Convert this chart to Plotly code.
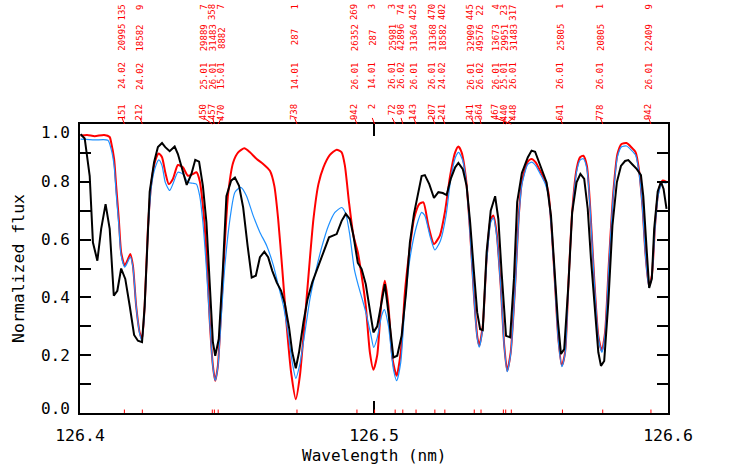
import numpy as np
import plotly.graph_objects as go

# ---------------- data ----------------
obs_wl = [126.4002, 126.4016, 126.4033, 126.4044, 126.4059, 126.4072, 126.4087, 126.4101, 126.4115, 126.4127,
          126.4140, 126.4154, 126.4169, 126.4184, 126.4197, 126.4211, 126.4220, 126.4237, 126.4252, 126.4265,
          126.4279, 126.4290, 126.4305, 126.4322, 126.4333, 126.4347, 126.4363, 126.4379, 126.4392, 126.4405,
          126.4418, 126.4430, 126.4441, 126.4452, 126.4460, 126.4472, 126.4486, 126.4498, 126.4514, 126.4527,
          126.4541, 126.4555, 126.4570, 126.4584, 126.4598, 126.4612, 126.4627, 126.4640, 126.4654, 126.4669,
          126.4684, 126.4697, 126.4711, 126.4722, 126.4734, 126.4745, 126.4760, 126.4774, 126.4790, 126.4808,
          126.4828, 126.4847, 126.4873, 126.4890, 126.4904, 126.4918, 126.4930, 126.4945, 126.4958, 126.4972,
          126.4986, 126.4998, 126.5011, 126.5026, 126.5037, 126.5049, 126.5066, 126.5079, 126.5094, 126.5109,
          126.5122, 126.5136, 126.5151, 126.5162, 126.5173, 126.5188, 126.5204, 126.5219, 126.5234, 126.5247,
          126.5261, 126.5276, 126.5287, 126.5302, 126.5315, 126.5327, 126.5340, 126.5351, 126.5361, 126.5370,
          126.5383, 126.5397, 126.5412, 126.5423, 126.5434, 126.5449, 126.5463, 126.5476, 126.5487, 126.5503,
          126.5523, 126.5536, 126.5548, 126.5561, 126.5576, 126.5587, 126.5602, 126.5613, 126.5625, 126.5636,
          126.5647, 126.5661, 126.5674, 126.5689, 126.5702, 126.5715, 126.5727, 126.5738, 126.5752, 126.5763,
          126.5772, 126.5783, 126.5797, 126.5811, 126.5826, 126.5840, 126.5854, 126.5865, 126.5879, 126.5894,
          126.5908, 126.5916, 126.5928, 126.5936, 126.5945, 126.5953, 126.5965, 126.5976, 126.5985, 126.5995]
obs_flux = [0.965, 0.950, 0.820, 0.590, 0.527, 0.637, 0.723, 0.637, 0.406, 0.423,
            0.500, 0.464, 0.371, 0.270, 0.250, 0.245, 0.371, 0.765, 0.868, 0.920,
            0.934, 0.920, 0.906, 0.922, 0.896, 0.850, 0.789, 0.827, 0.876, 0.870,
            0.786, 0.660, 0.441, 0.245, 0.198, 0.256, 0.498, 0.750, 0.804, 0.815,
            0.786, 0.711, 0.579, 0.469, 0.475, 0.539, 0.558, 0.539, 0.492, 0.452,
            0.423, 0.377, 0.296, 0.210, 0.155, 0.210, 0.314, 0.394, 0.452, 0.498,
            0.556, 0.608, 0.619, 0.665, 0.689, 0.671, 0.614, 0.519, 0.498, 0.446,
            0.360, 0.279, 0.300, 0.383, 0.446, 0.348, 0.192, 0.198, 0.267, 0.417,
            0.590, 0.689, 0.764, 0.820, 0.823, 0.792, 0.744, 0.764, 0.761, 0.754,
            0.810, 0.850, 0.865, 0.844, 0.786, 0.660, 0.487, 0.348, 0.290, 0.287,
            0.556, 0.700, 0.750, 0.671, 0.487, 0.267, 0.262, 0.464, 0.730, 0.830,
            0.884, 0.908, 0.904, 0.867, 0.827, 0.798, 0.683, 0.521, 0.325, 0.204,
            0.221, 0.440, 0.694, 0.798, 0.827, 0.810, 0.706, 0.533, 0.348, 0.210,
            0.163, 0.180, 0.383, 0.648, 0.798, 0.855, 0.872, 0.875, 0.860, 0.844,
            0.823, 0.750, 0.556, 0.433, 0.464, 0.637, 0.767, 0.800, 0.775, 0.706]

model1_wl = [126.4002, 126.4024, 126.4050, 126.4082, 126.4101, 126.4106, 126.4116, 126.4123, 126.4132, 126.4140,
             126.4152, 126.4161, 126.4171, 126.4180, 126.4191, 126.4203, 126.4211, 126.4220, 126.4231, 126.4243,
             126.4256, 126.4268, 126.4279, 126.4290, 126.4302, 126.4316, 126.4333, 126.4350, 126.4367, 126.4384,
             126.4396, 126.4407, 126.4418, 126.4430, 126.4441, 126.4452, 126.4460, 126.4469, 126.4481, 126.4492,
             126.4504, 126.4521, 126.4538, 126.4559, 126.4578, 126.4601, 126.4623, 126.4646, 126.4661, 126.4674,
             126.4688, 126.4703, 126.4718, 126.4734, 126.4748, 126.4763, 126.4779, 126.4794, 126.4811, 126.4828,
             126.4850, 126.4873, 126.4890, 126.4901, 126.4915, 126.4930, 126.4945, 126.4958, 126.4972, 126.4986,
             126.4998, 126.5011, 126.5026, 126.5037, 126.5049, 126.5063, 126.5077, 126.5091, 126.5105, 126.5120,
             126.5136, 126.5154, 126.5168, 126.5185, 126.5204, 126.5224, 126.5241, 126.5259, 126.5276, 126.5287,
             126.5298, 126.5313, 126.5327, 126.5340, 126.5351, 126.5358, 126.5370, 126.5383, 126.5397, 126.5406,
             126.5417, 126.5431, 126.5443, 126.5453, 126.5465, 126.5480, 126.5493, 126.5503, 126.5523, 126.5536,
             126.5550, 126.5565, 126.5582, 126.5593, 126.5604, 126.5616, 126.5627, 126.5639, 126.5650, 126.5661,
             126.5674, 126.5689, 126.5701, 126.5712, 126.5724, 126.5735, 126.5749, 126.5763, 126.5775, 126.5786,
             126.5799, 126.5814, 126.5828, 126.5842, 126.5859, 126.5876, 126.5890, 126.5901, 126.5913, 126.5923,
             126.5935, 126.5945, 126.5956, 126.5967, 126.5981, 126.5995]
model1_flux = [0.960, 0.962, 0.958, 0.962, 0.955, 0.936, 0.879, 0.786, 0.671, 0.556,
               0.510, 0.527, 0.550, 0.510, 0.371, 0.279, 0.256, 0.371, 0.637, 0.798,
               0.873, 0.898, 0.885, 0.833, 0.792, 0.810, 0.858, 0.850, 0.821, 0.827,
               0.833, 0.804, 0.717, 0.556, 0.325, 0.164, 0.112, 0.164, 0.371, 0.579,
               0.760, 0.867, 0.902, 0.916, 0.902, 0.879, 0.862, 0.838, 0.786, 0.671,
               0.498, 0.302, 0.141, 0.048, 0.129, 0.302, 0.498, 0.671, 0.792, 0.850,
               0.893, 0.911, 0.902, 0.856, 0.729, 0.614, 0.556, 0.475, 0.371, 0.210,
               0.150, 0.200, 0.394, 0.458, 0.371, 0.187, 0.129, 0.210, 0.417, 0.556,
               0.671, 0.723, 0.729, 0.648, 0.585, 0.614, 0.694, 0.821, 0.902, 0.922,
               0.902, 0.810, 0.625, 0.406, 0.267, 0.233, 0.302, 0.533, 0.671, 0.683,
               0.625, 0.440, 0.233, 0.146, 0.210, 0.440, 0.690, 0.800, 0.870, 0.879,
               0.867, 0.838, 0.804, 0.764, 0.637, 0.440, 0.256, 0.164, 0.210, 0.440,
               0.694, 0.844, 0.885, 0.890, 0.856, 0.717, 0.464, 0.267, 0.215, 0.279,
               0.521, 0.764, 0.896, 0.931, 0.934, 0.919, 0.902, 0.844, 0.717, 0.556,
               0.440, 0.475, 0.648, 0.764, 0.804, 0.800]

model2_wl = [126.4002, 126.4050, 126.4095, 126.4106, 126.4116, 126.4123, 126.4132, 126.4140, 126.4152, 126.4161,
             126.4171, 126.4180, 126.4191, 126.4203, 126.4211, 126.4220, 126.4231, 126.4243, 126.4256, 126.4268,
             126.4279, 126.4290, 126.4305, 126.4316, 126.4333, 126.4350, 126.4367, 126.4384, 126.4396, 126.4407,
             126.4418, 126.4430, 126.4441, 126.4452, 126.4460, 126.4469, 126.4481, 126.4492, 126.4510, 126.4527,
             126.4547, 126.4566, 126.4589, 126.4612, 126.4635, 126.4658, 126.4675, 126.4692, 126.4709, 126.4722,
             126.4734, 126.4748, 126.4765, 126.4782, 126.4801, 126.4822, 126.4845, 126.4867, 126.4890, 126.4904,
             126.4918, 126.4933, 126.4947, 126.4960, 126.4975, 126.4990, 126.4999, 126.5011, 126.5026, 126.5035,
             126.5049, 126.5066, 126.5077, 126.5091, 126.5105, 126.5122, 126.5145, 126.5162, 126.5173, 126.5190,
             126.5207, 126.5226, 126.5245, 126.5261, 126.5277, 126.5288, 126.5302, 126.5315, 126.5327, 126.5340,
             126.5351, 126.5358, 126.5370, 126.5383, 126.5397, 126.5406, 126.5417, 126.5431, 126.5443, 126.5453,
             126.5465, 126.5480, 126.5493, 126.5503, 126.5523, 126.5536, 126.5550, 126.5565, 126.5582, 126.5593,
             126.5604, 126.5616, 126.5627, 126.5639, 126.5650, 126.5661, 126.5674, 126.5689, 126.5701, 126.5712,
             126.5724, 126.5735, 126.5749, 126.5763, 126.5775, 126.5786, 126.5799, 126.5814, 126.5828, 126.5842,
             126.5859, 126.5876, 126.5890, 126.5901, 126.5913, 126.5923, 126.5935, 126.5945, 126.5956, 126.5967,
             126.5981, 126.5995]
model2_flux = [0.948, 0.945, 0.944, 0.913, 0.856, 0.760, 0.650, 0.545, 0.505, 0.520,
               0.540, 0.505, 0.370, 0.275, 0.250, 0.360, 0.620, 0.786, 0.850, 0.876,
               0.856, 0.798, 0.770, 0.792, 0.833, 0.827, 0.798, 0.795, 0.792, 0.752,
               0.660, 0.500, 0.320, 0.160, 0.112, 0.160, 0.340, 0.500, 0.671, 0.764,
               0.781, 0.752, 0.683, 0.625, 0.579, 0.510, 0.440, 0.371, 0.267, 0.175,
               0.120, 0.170, 0.279, 0.394, 0.487, 0.573, 0.648, 0.694, 0.711, 0.689,
               0.614, 0.498, 0.440, 0.394, 0.337, 0.267, 0.227, 0.260, 0.337, 0.358,
               0.302, 0.152, 0.112, 0.175, 0.371, 0.533, 0.648, 0.694, 0.683, 0.614,
               0.564, 0.596, 0.683, 0.810, 0.885, 0.902, 0.873, 0.786, 0.615, 0.400,
               0.260, 0.228, 0.295, 0.520, 0.660, 0.675, 0.615, 0.435, 0.230, 0.143,
               0.205, 0.430, 0.680, 0.790, 0.860, 0.868, 0.856, 0.828, 0.794, 0.754,
               0.630, 0.435, 0.250, 0.160, 0.205, 0.435, 0.685, 0.834, 0.875, 0.880,
               0.846, 0.710, 0.460, 0.262, 0.210, 0.274, 0.515, 0.755, 0.886, 0.921,
               0.924, 0.909, 0.892, 0.835, 0.710, 0.550, 0.435, 0.470, 0.640, 0.755,
               0.797, 0.795]

# line identifications
line_wl = [126.4151, 126.4212, 126.4450, 126.4457, 126.4470, 126.4738, 126.4942, 126.5002,
           126.5072, 126.5098, 126.5143, 126.5207, 126.5241, 126.5341, 126.5364, 126.5467,
           126.5440, 126.5448, 126.5641, 126.5778, 126.5942]
line_ion = ["24.02", "24.02", "25.01", "26.01", "15.01", "14.01", "26.01", "14.01",
            "26.01", "26.02", "26.01", "26.01", "24.02", "26.01", "26.02", "26.01",
            "25.01", "26.01", "26.01", "26.01", "26.01"]
line_level = ["20995", "18582", "29889", "31483", "8882", "287", "26352", "287",
              "25981", "42896", "31364", "31368", "18582", "32909", "49576", "13673",
              "29951", "31483", "25805", "20805", "22409"]
line_strength = ["135", "9", "7", "358", "7", "1", "269", "3",
                 "3", "74", "425", "470", "402", "445", "22", "4",
                 "23", "317", "1", "1", "9"]

x_ticks = [126.4, 126.5, 126.6]
y_ticks = [0.0, 0.1, 0.2, 0.3, 0.4, 0.5, 0.6, 0.7, 0.8, 0.9, 1.0]

# ---------------- layout helpers ----------------
XMIN, XMAX = 126.4, 126.6
GAP = 0.0030      # minimum label separation (nm)
SHIFT = -0.0008   # labels sit slightly left of the line


def spread(vals, gap):
    clusters = [[i] for i in range(len(vals))]
    while True:
        pos = []
        for c in clusters:
            m = np.mean([vals[i] for i in c])
            n = len(c)
            pos.append([m + (k - (n - 1) / 2) * gap for k in range(n)])
        merged = False
        for j in range(len(clusters) - 1):
            if pos[j + 1][0] - pos[j][-1] < gap - 1e-9:
                clusters[j] = clusters[j] + clusters[j + 1]
                del clusters[j + 1]
                merged = True
                break
        if not merged:
            out = [0.0] * len(vals)
            for c, p in zip(clusters, pos):
                for i, v in zip(c, p):
                    out[i] = v
            return out


label_x = [p + SHIFT for p in spread(line_wl, GAP)]

RED = "#ff0000"
BLUE = "#1e90ff"
FONT = "DejaVu Sans Mono"

fig = go.Figure()
fig.add_trace(go.Scatter(x=model1_wl, y=model1_flux, mode="lines",
                         line=dict(color=RED, width=2, shape="spline", smoothing=0.6),
                         hoverinfo="skip", showlegend=False))
fig.add_trace(go.Scatter(x=model2_wl, y=model2_flux, mode="lines",
                         line=dict(color=BLUE, width=1.2, shape="spline", smoothing=0.6),
                         hoverinfo="skip", showlegend=False))
fig.add_trace(go.Scatter(x=obs_wl, y=obs_flux, mode="lines",
                         line=dict(color="black", width=2),
                         hoverinfo="skip", showlegend=False))

shapes = []
annotations = []
afont = dict(family=FONT, size=9, color=RED)
for wl, lx, ion, lev, st in zip(line_wl, label_x, line_ion, line_level, line_strength):
    suffix = str(int(round(wl * 1e4)) % 1000)
    # connector from the top axis to the label
    shapes.append(dict(type="line", xref="x", yref="paper", x0=wl, x1=lx, y0=1.0, y1=1.021,
                       line=dict(color=RED, width=1)))
    # short red mark on the bottom axis
    shapes.append(dict(type="line", xref="x", yref="paper", x0=wl, x1=wl, y0=0.0, y1=0.012,
                       line=dict(color=RED, width=1)))
    annotations.append(dict(x=lx, y=1.071, xref="x", yref="paper", text=suffix, textangle=-90,
                            showarrow=False, xanchor="center", yanchor="top", font=afont, borderpad=0))
    annotations.append(dict(x=lx, y=1.166, xref="x", yref="paper", text=ion, textangle=-90,
                            showarrow=False, xanchor="center", yanchor="middle", font=afont, borderpad=0))
    annotations.append(dict(x=lx, y=1.299, xref="x", yref="paper", text=lev, textangle=-90,
                            showarrow=False, xanchor="center", yanchor="middle", font=afont, borderpad=0))
    annotations.append(dict(x=lx, y=1.417, xref="x", yref="paper", text=st, textangle=-90,
                            showarrow=False, xanchor="center", yanchor="top", font=afont, borderpad=0))

# end labels of the y axis sit slightly inside the axis range
tick_font = dict(family=FONT, size=16, color="black")
annotations.append(dict(x=-0.0136, y=0.972, xref="paper", yref="paper", text="1.0",
                        showarrow=False, xanchor="right", yanchor="middle", font=tick_font))
annotations.append(dict(x=-0.0136, y=0.017, xref="paper", yref="paper", text="0.0",
                        showarrow=False, xanchor="right", yanchor="middle", font=tick_font))

annotations.append(dict(x=-0.1046, y=0.5, xref="paper", yref="paper", text="Normalized flux",
                        textangle=-90, showarrow=False, xanchor="center", yanchor="middle",
                        font=dict(family=FONT, size=16.5, color="black")))
annotations.append(dict(x=0.5, y=-0.146, xref="paper", yref="paper", text="Wavelength (nm)",
                        showarrow=False, xanchor="center", yanchor="middle",
                        font=dict(family=FONT, size=16, color="black")))

fig.update_layout(
    width=729, height=465,
    margin=dict(l=80, r=61, t=124, b=52, autoexpand=False),
    paper_bgcolor="white", plot_bgcolor="white",
    shapes=shapes, annotations=annotations,
    showlegend=False,
)
fig.update_xaxes(range=[XMIN, XMAX], tickvals=x_ticks, ticktext=[f"{v:.1f}" for v in x_ticks],
                 ticks="inside", ticklen=12, tickwidth=2, tickcolor="black",
                 showline=True, linewidth=2, linecolor="black", mirror="ticks",
                 showgrid=False, zeroline=False, ticklabelstandoff=6,
                 tickfont=dict(family=FONT, size=16.5, color="black"))
fig.update_yaxes(range=[0, 1.0], tickvals=y_ticks,
                 ticktext=[f"{v:.1f}" if (i % 2 == 0 and 0 < i < len(y_ticks) - 1) else ""
                           for i, v in enumerate(y_ticks)],
                 ticks="inside", ticklen=11, tickwidth=2, tickcolor="black",
                 showline=True, linewidth=2, linecolor="black", mirror="ticks",
                 showgrid=False, zeroline=False, ticklabelstandoff=5,
                 tickfont=tick_font)

fig.write_html("out.html", config={"displayModeBar": False},
               post_script="document.body.style.margin='0';")
